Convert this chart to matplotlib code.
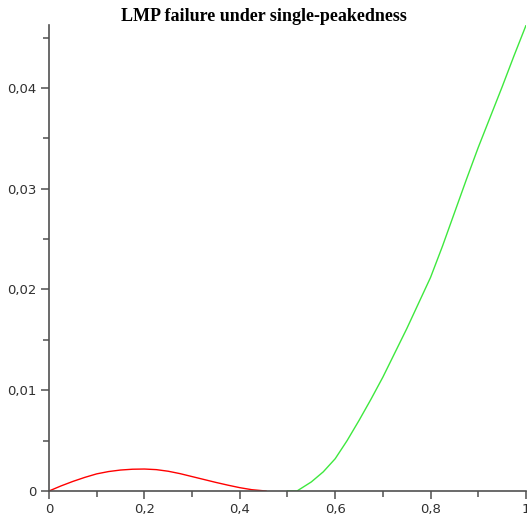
import matplotlib
matplotlib.use("Agg")
import matplotlib.pyplot as plt
from matplotlib.ticker import MultipleLocator, FuncFormatter

# red branch
red_x = [0.0, 0.025, 0.05, 0.075, 0.1, 0.125, 0.15, 0.175, 0.2, 0.225, 0.25, 0.275, 0.3,
         0.325, 0.35, 0.375, 0.4, 0.425, 0.45, 0.455]
red_y = [0.0, 0.0005, 0.00095, 0.00135, 0.0017, 0.00193, 0.00208, 0.00216, 0.00218, 0.00212,
         0.00196, 0.00172, 0.00143, 0.00114, 0.00085, 0.00058, 0.00033, 0.00013, 0.00002, 0.0]

# green branch
green_x = [0.5, 0.52, 0.55, 0.575, 0.6, 0.625, 0.65, 0.675, 0.7, 0.75, 0.8, 0.825, 0.85,
           0.875, 0.9, 0.925, 0.95, 0.975, 1.0]
green_y = [0.0, 0.0, 0.0009, 0.0019, 0.0032, 0.0050, 0.0070, 0.0091, 0.0113, 0.0161, 0.0212,
           0.0243, 0.0276, 0.0309, 0.0341, 0.0371, 0.0401, 0.0432, 0.0462]

fig = plt.figure(figsize=(5.27, 5.23), dpi=100)
ax = fig.add_axes([0.093, 0.0612, 0.905, 0.891])

ax.plot(red_x, red_y, color="#ff0000", lw=1.0)
ax.plot(green_x, green_y, color="#3ee83e", lw=1.0)

ax.set_xlim(0, 1)
ax.set_ylim(0, 0.04625)

for s in ["top", "right"]:
    ax.spines[s].set_visible(False)
for s in ["left", "bottom"]:
    ax.spines[s].set_color("#505050")
    ax.spines[s].set_linewidth(1.2)

ax.xaxis.set_major_locator(MultipleLocator(0.2))
ax.xaxis.set_minor_locator(MultipleLocator(0.1))
ax.yaxis.set_major_locator(MultipleLocator(0.01))
ax.yaxis.set_minor_locator(MultipleLocator(0.005))

def comma(v, pos):
    s = "%g" % round(v, 4)
    return s.replace(".", ",")

ax.xaxis.set_major_formatter(FuncFormatter(comma))
ax.yaxis.set_major_formatter(FuncFormatter(comma))

ax.tick_params(which="major", length=6, width=1.1, color="#505050", labelsize=9.5, labelcolor="#303030", pad=3)
ax.tick_params(which="minor", length=4, width=1.1, color="#505050")

fig.text(0.5, 0.969, "LMP failure under single-peakedness", ha="center", va="center",
         fontsize=13, fontweight="bold", family="Liberation Serif")

fig.savefig("out.png", dpi=100, facecolor="white")
